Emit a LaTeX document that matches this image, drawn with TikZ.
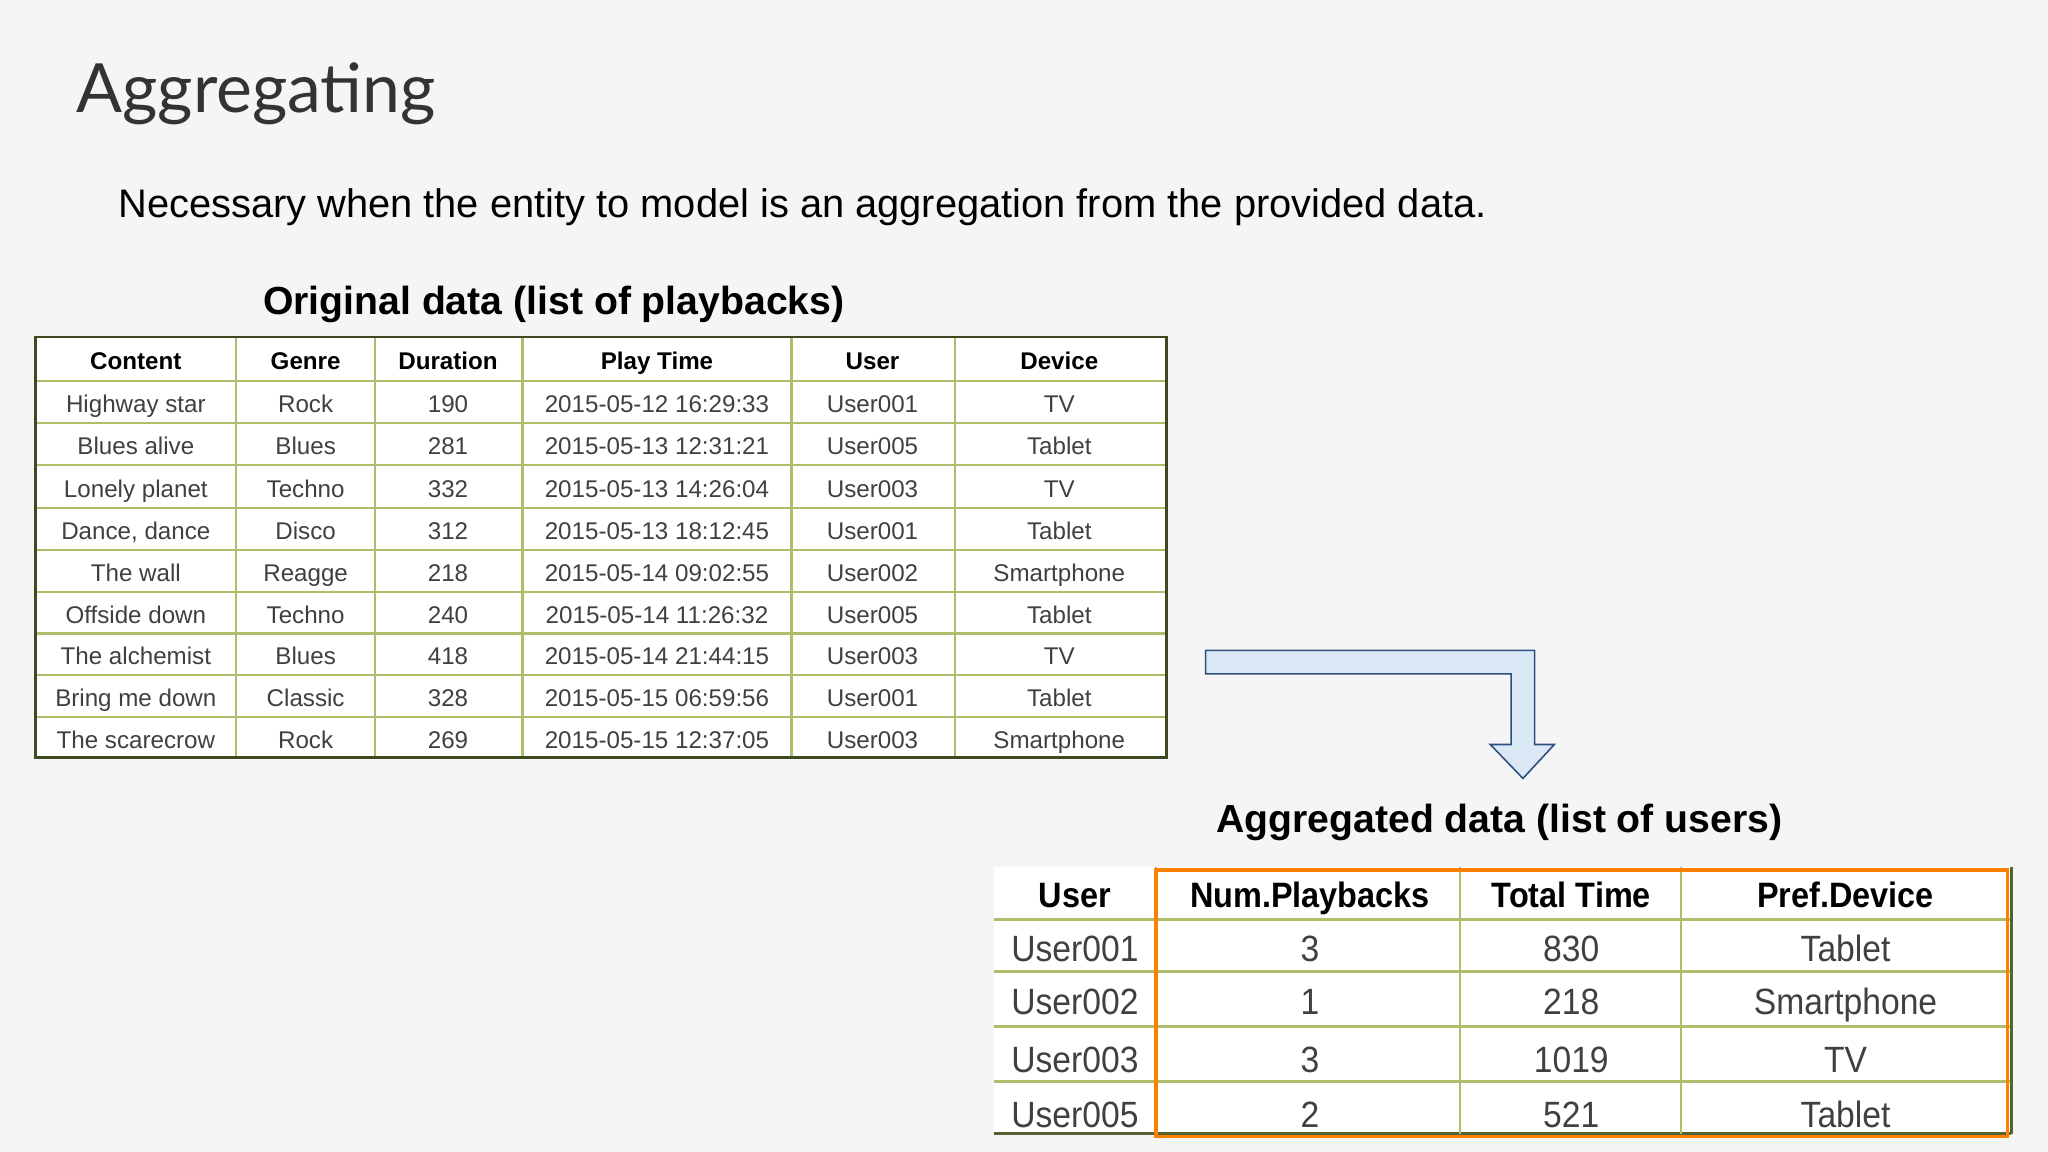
\documentclass[tikz,border=0pt]{standalone}
\usepackage{fontspec}
\setmainfont{Liberation Sans}
\newfontfamily\titlefont{Lato}
\definecolor{gridc}{HTML}{AEBE6A}
\definecolor{outc}{HTML}{3E4A22}
\definecolor{arrfill}{HTML}{DAE8F5}
\definecolor{arrdraw}{HTML}{2E4E7E}
\begin{document}
\begin{tikzpicture}[x=1pt,y=-1pt,
  grid/.style={draw=gridc,line width=1.6pt},
  outer/.style={draw=outc,line width=2pt},
  cellA/.style={font=\fontsize{18.5}{20}\selectfont,text=black!75,anchor=base,inner sep=0},
  headA/.style={cellA,font=\fontsize{18.5}{20}\selectfont\bfseries,text=black},
  cellB/.style={font=\fontsize{28}{30}\selectfont,text=black!75,anchor=base,inner sep=0,xscale=0.92},
  headB/.style={cellB,font=\fontsize{27}{30}\selectfont\bfseries,text=black},
  arrowshape/.style={fill=arrfill,draw=arrdraw,line width=1.2pt}]
\fill[black!4] (0,0) rectangle (1568,882);
\useasboundingbox (0,0) rectangle (1568,882);
\node[anchor=west,font=\titlefont\fontsize{52}{56}\selectfont,text=black!80] (title) at (55,72) {Aggregating};
\node[anchor=west,font=\fontsize{30.5}{32}\selectfont] (sub) at (87,159) {Necessary when the entity to model is an aggregation from the provided data.};
\node[font=\fontsize{30}{32}\selectfont\bfseries] (t1) at (424,233) {Original data (list of playbacks)};
\node[font=\fontsize{30}{32}\selectfont\bfseries] (t2) at (1148,630) {Aggregated data (list of users)};
% table A
\fill[white] (27,258) rectangle (893,580);
\foreach \y in {292,324,356,389,421,453,485,517,549} \draw[grid] (27,\y) -- (893,\y);
\foreach \x in {181,287,400,606,731} \draw[grid] (\x,258) -- (\x,580);
\draw[outer] (27,258) rectangle (893,580);
\foreach \r/\a/\b/\c/\d/\e/\f in {
 0/Content/Genre/Duration/Play Time/User/Device,
 1/Highway star/Rock/190/2015-05-12 16:29:33/User001/TV,
 2/Blues alive/Blues/281/2015-05-13 12:31:21/User005/Tablet,
 3/Lonely planet/Techno/332/2015-05-13 14:26:04/User003/TV,
 4/{Dance, dance}/Disco/312/2015-05-13 18:12:45/User001/Tablet,
 5/The wall/Reagge/218/2015-05-14 09:02:55/User002/Smartphone,
 6/Offside down/Techno/240/2015-05-14 11:26:32/User005/Tablet,
 7/The alchemist/Blues/418/2015-05-14 21:44:15/User003/TV,
 8/Bring me down/Classic/328/2015-05-15 06:59:56/User001/Tablet,
 9/The scarecrow/Rock/269/2015-05-15 12:37:05/User003/Smartphone}{
  \pgfmathsetmacro\yy{{283,316,348,381,413,445,477,509,541,573}[\r]}
  \ifnum\r=0 \def\st{headA}\else\def\st{cellA}\fi
  \node[\st] (a-\r-1) at (104,\yy) {\a};
  \node[\st] (a-\r-2) at (234,\yy) {\b};
  \node[\st] (a-\r-3) at (343,\yy) {\c};
  \node[\st] (a-\r-4) at (503,\yy) {\d};
  \node[\st] (a-\r-5) at (668,\yy) {\e};
  \node[\st] (a-\r-6) at (811,\yy) {\f};
}
% arrow
\draw[arrowshape] (923,498) -- (1175,498) -- (1175,570) -- (1190,570) -- (1166,596) -- (1141,570) -- (1157,570) -- (1157,516) -- (923,516) -- cycle;
% table B
\fill[white] (761,664) rectangle (1540,868);
\foreach \y in {704,744,786,828} \draw[grid,line width=2.6pt] (761,\y) -- (1540,\y);
\draw[grid,line width=2.6pt,draw=outc!80!gridc] (761,868) -- (1540,868);
\foreach \x in {885,1118,1287} \draw[grid] (\x,664) -- (\x,868);
\draw[grid,draw=outc!80!gridc] (1540,664) -- (1540,868);
\foreach \r/\a/\b/\c/\d in {
 0/User/Num.Playbacks/Total Time/Pref.Device,
 1/User001/3/830/Tablet,
 2/User002/1/218/Smartphone,
 3/User003/3/1019/TV,
 4/User005/2/521/Tablet}{
  \pgfmathsetmacro\yy{{695,736,777,821,863}[\r]}
  \ifnum\r=0 \def\st{headB}\else\def\st{cellB}\fi
  \node[\st] (b-\r-1) at (823,\yy) {\a};
  \node[\st] (b-\r-2) at (1003,\yy) {\b};
  \node[\st] (b-\r-3) at (1203,\yy) {\c};
  \node[\st] (b-\r-4) at (1413,\yy) {\d};
}
\draw[draw=orange,line width=2.5pt] (885,666) rectangle (1537,870);
\end{tikzpicture}
\end{document}
